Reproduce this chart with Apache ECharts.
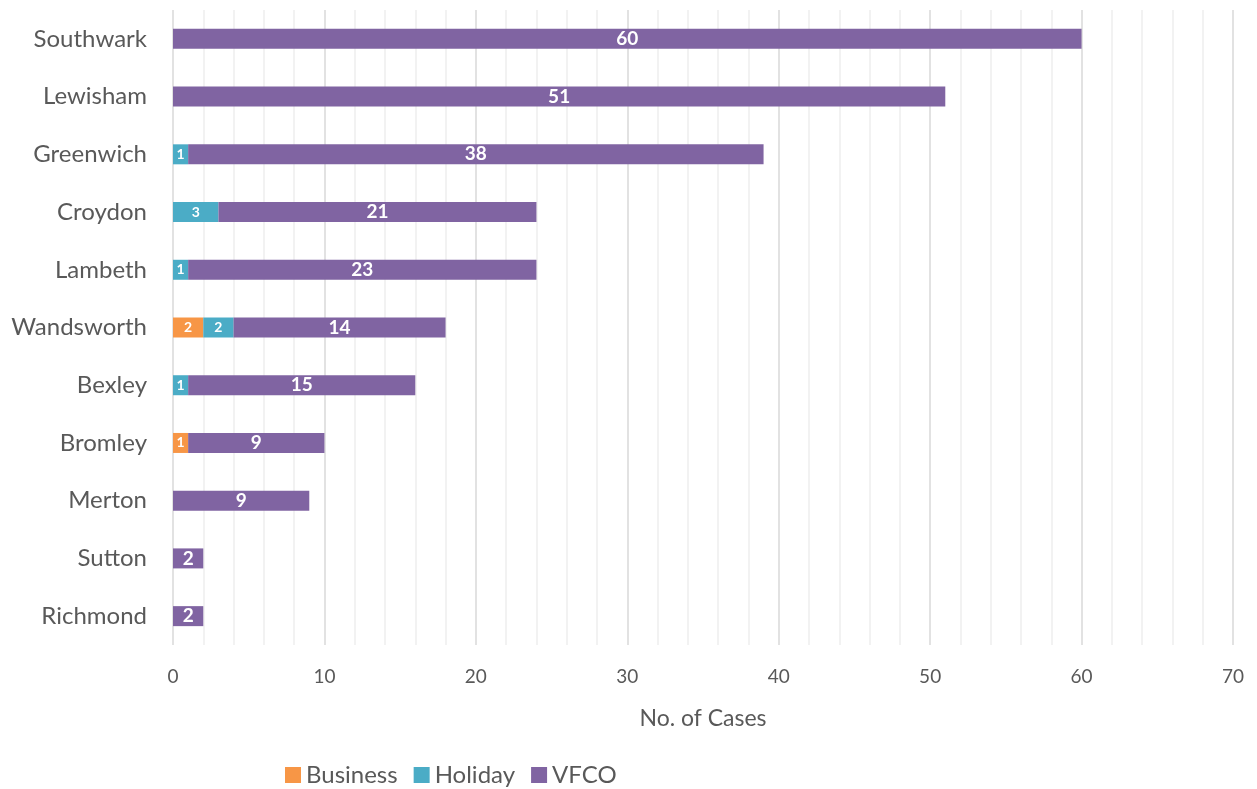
<!DOCTYPE html>
<html>
<head>
<meta charset="utf-8">
<script src="https://cdn.jsdelivr.net/npm/echarts@6/dist/echarts.min.js"></script>
<style>html,body{margin:0;padding:0;background:#fff;}#c{width:1257px;height:789px;}</style>
</head>
<body>
<div id="c"></div>
<script>
const categories = ['Southwark','Lewisham','Greenwich','Croydon','Lambeth','Wandsworth','Bexley','Bromley','Merton','Sutton','Richmond'];
const business = [0,0,0,0,0,2,0,1,0,0,0];
const holiday  = [0,0,1,3,1,2,1,0,0,0,0];
const vfco     = [60,51,38,21,23,14,15,9,9,2,2];
const FONT = 'Lato, "Open Sans", sans-serif';
function mk(name, data, color, fs) {
  return {
    name, type: 'bar', stack: 'total', barWidth: 20,
    data: data.map(v => v === 0 ? null : v),
    itemStyle: { color },
    label: { show: true, position: 'inside', color: '#fff', fontWeight: 'bold', fontSize: fs, fontFamily: FONT,
      formatter: p => p.value ? p.value : '' }
  };
}
const chart = echarts.init(document.getElementById('c'));
chart.setOption({
  animation: false,
  grid: { left: 173, right: 24, top: 10, bottom: 144, containLabel: false },
  legend: {
    top: 758, left: 280, itemWidth: 16, itemHeight: 16, itemGap: 16,
    icon: 'rect',
    textStyle: { fontSize: 24, color: '#595959', fontFamily: FONT },
    data: ['Business','Holiday','VFCO']
  },
  xAxis: {
    type: 'value', min: 0, max: 70, interval: 10,
    name: 'No. of Cases', nameLocation: 'middle', nameGap: 62,
    nameTextStyle: { fontSize: 23, color: '#595959', fontFamily: FONT },
    axisLine: { show: false }, axisTick: { show: false },
    axisLabel: { fontSize: 19, color: '#595959', margin: 22, fontFamily: FONT },
    splitLine: { show: true, lineStyle: { color: '#d9d9d9', width: 1.5 } },
    minorTick: { show: false, splitNumber: 5 },
    minorSplitLine: { show: true, lineStyle: { color: '#eeeeee', width: 1.5 } }
  },
  yAxis: {
    type: 'category', data: categories, inverse: true,
    axisLine: { show: false }, axisTick: { show: false },
    axisLabel: { fontSize: 24, color: '#595959', margin: 26, fontFamily: FONT }
  },
  series: [
    mk('Business', business, '#F79646', 14),
    mk('Holiday', holiday, '#4BACC6', 14),
    mk('VFCO', vfco, '#8064A2', 19)
  ]
});
</script>
</body>
</html>
